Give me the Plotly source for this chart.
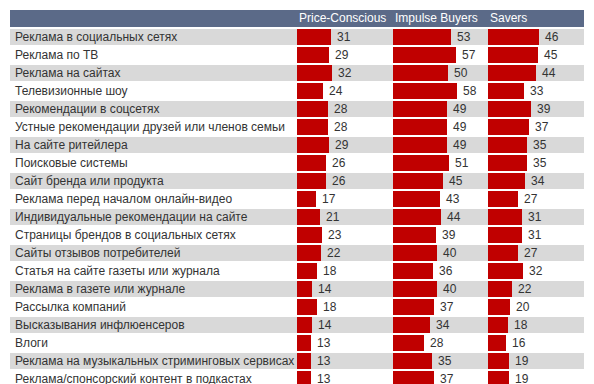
import plotly.graph_objects as go

categories = [
    "Реклама в социальных сетях",
    "Реклама по ТВ",
    "Реклама на сайтах",
    "Телевизионные шоу",
    "Рекомендации в соцсетях",
    "Устные рекомендации друзей или членов семьи",
    "На сайте ритейлера",
    "Поисковые системы",
    "Сайт бренда или продукта",
    "Реклама перед началом онлайн-видео",
    "Индивидуальные рекомендации на сайте",
    "Страницы брендов в социальных сетях",
    "Сайты отзывов потребителей",
    "Статья на сайте газеты или журнала",
    "Реклама в газете или журнале",
    "Рассылка компаний",
    "Высказывания инфлюенсеров",
    "Влоги",
    "Реклама на музыкальных стриминговых сервисах",
    "Реклама/спонсорский контент в подкастах",
]
series_names = ["Price-Conscious", "Impulse Buyers", "Savers"]
price_conscious = [31, 29, 32, 24, 28, 28, 29, 26, 26, 17, 21, 23, 22, 18, 14, 18, 14, 13, 13, 13]
impulse_buyers = [53, 57, 50, 58, 49, 49, 49, 51, 45, 43, 44, 39, 40, 36, 40, 37, 34, 28, 35, 37]
savers = [46, 45, 44, 33, 39, 37, 35, 35, 34, 27, 31, 31, 27, 32, 22, 20, 18, 16, 19, 19]
series_values = [price_conscious, impulse_buyers, savers]

W, H = 594, 384
RED = "#c00000"
BAND = "#d9d9d9"
HEADER = "#5b6a88"
TXT = "#333333"
FONT = "Liberation Sans, Arial, sans-serif"

col_starts = [297, 393, 488]
col_w = 88
xmax = col_w / 1.1

fig = go.Figure()
shapes = []
annotations = []

# alternating bands
for i, c in enumerate(categories):
    if i % 2 == 0:
        shapes.append(dict(type="rect", xref="paper", yref="y", x0=10 / W, x1=584 / W,
                           y0=i - 0.45, y1=i + 0.45, fillcolor=BAND, line_width=0, layer="below"))
    annotations.append(dict(xref="paper", yref="y", x=13 / W, y=i, text=c, showarrow=False,
                            xanchor="left", yanchor="middle",
                            font=dict(family=FONT, size=12, color=TXT)))

# header band
shapes.append(dict(type="rect", xref="paper", yref="y", x0=10 / W, x1=584 / W,
                   y0=-1.5, y1=-0.56, fillcolor=HEADER, line_width=0, layer="below"))

for k, (name, vals) in enumerate(zip(series_names, series_values)):
    ax = "x" if k == 0 else f"x{k+1}"
    fig.add_trace(go.Bar(
        x=vals, y=categories, orientation="h", name=name,
        marker=dict(color=RED, line_width=0), width=0.89,
        xaxis=ax, yaxis="y", hoverinfo="x+y", showlegend=False,
    ))
    for i, v in enumerate(vals):
        annotations.append(dict(xref=ax, yref="y", x=v, y=i, text=str(v), showarrow=False,
                                xanchor="left", yanchor="middle", xshift=4,
                                font=dict(family=FONT, size=12, color=TXT)))
    annotations.append(dict(xref="paper", yref="y", x=col_starts[k] / W, y=-1.03, text=name,
                            showarrow=False, xanchor="left", yanchor="middle",
                            font=dict(family=FONT, size=12, color="white")))

layout_axes = {}
for k in range(3):
    key = "xaxis" if k == 0 else f"xaxis{k+1}"
    layout_axes[key] = dict(domain=[col_starts[k] / W, (col_starts[k] + col_w) / W],
                            range=[0, xmax], visible=False, fixedrange=True, anchor="y")

fig.update_layout(
    width=W, height=H,
    margin=dict(l=0, r=0, t=0, b=0),
    paper_bgcolor="white", plot_bgcolor="rgba(0,0,0,0)",
    yaxis=dict(type="category", categoryorder="array", categoryarray=categories,
               range=[19 + 5 / 18, -37 / 18], visible=False, fixedrange=True),
    shapes=shapes, annotations=annotations, bargap=0,
    **layout_axes,
)
fig.write_html(
    "out.html",
    config={"displayModeBar": False},
    post_script="document.body.style.margin='0';document.body.style.overflow='hidden';",
)
